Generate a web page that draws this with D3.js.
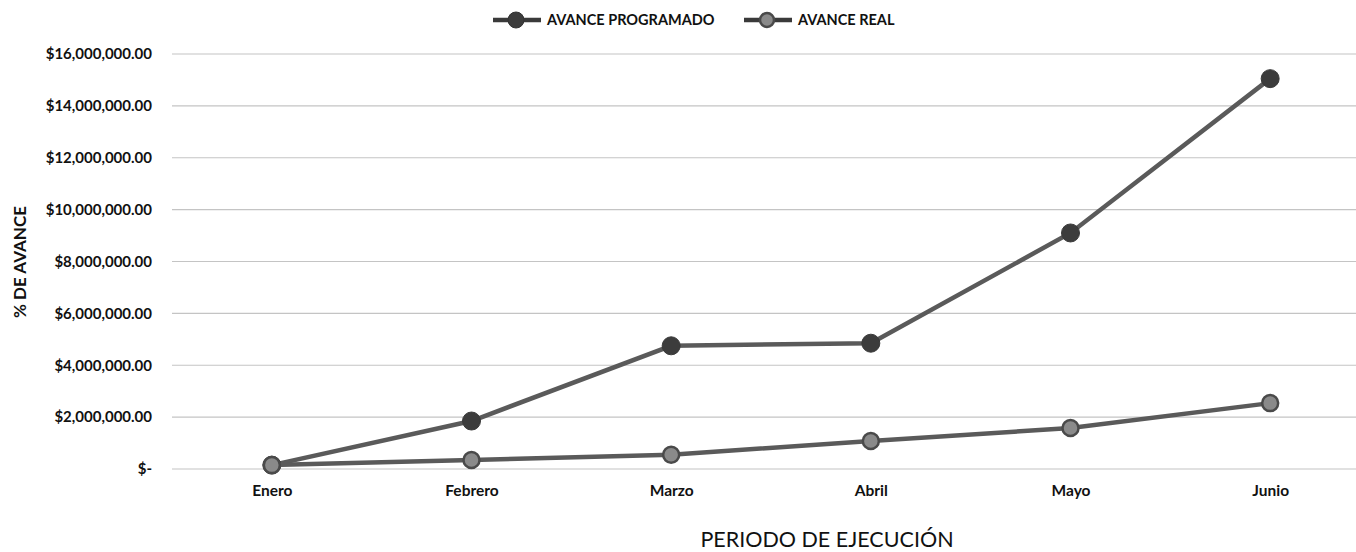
<!DOCTYPE html>
<html>
<head>
<meta charset="utf-8">
<script src="https://cdn.jsdelivr.net/npm/d3@7"></script>
<style>
  body { margin: 0; background: #fff; }
  text { font-family: Lato, "Open Sans", sans-serif; }
</style>
</head>
<body>
<svg id="chart" width="1356" height="552"></svg>
<script>
// data
var meses = ["Enero", "Febrero", "Marzo", "Abril", "Mayo", "Junio"];
var programado = [150000, 1850000, 4750000, 4850000, 9100000, 15050000];
var real = [150000, 350000, 550000, 1080000, 1580000, 2540000];
var yTicks = [0, 2000000, 4000000, 6000000, 8000000, 10000000, 12000000, 14000000, 16000000];

var svg = d3.select("#chart");
var plotLeft = 172, plotRight = 1370, plotTop = 54, plotBottom = 469;

var x = d3.scalePoint().domain(meses).range([plotLeft, plotRight]).padding(0.5);
var y = d3.scaleLinear().domain([0, 16000000]).range([plotBottom, plotTop]);

var fmt = function (v) {
  if (v === 0) return "$-";
  return "$" + d3.format(",.2f")(v);
};

// grid
svg.append("g").selectAll("line").data(yTicks).enter().append("line")
  .attr("x1", plotLeft).attr("x2", 1356)
  .attr("y1", function (d) { return y(d); })
  .attr("y2", function (d) { return y(d); })
  .attr("stroke", "#c4c4c4").attr("stroke-width", 1.2);

// y axis labels
var yAxis = d3.axisLeft(y).tickValues(yTicks).tickFormat(fmt).tickSize(0).tickPadding(20);
var gy = svg.append("g").attr("transform", "translate(" + plotLeft + ",0)").call(yAxis);
gy.select(".domain").remove();
gy.selectAll("text").attr("font-size", 15).attr("font-weight", "bold").attr("fill", "#111");

// x axis labels
var xAxis = d3.axisBottom(x).tickSize(0).tickPadding(16);
var gx = svg.append("g").attr("transform", "translate(0," + plotBottom + ")").call(xAxis);
gx.select(".domain").remove();
gx.selectAll("text").attr("font-size", 15.5).attr("font-weight", "bold").attr("fill", "#111");

// axis titles
svg.append("text").attr("x", 827).attr("y", 547).attr("text-anchor", "middle")
  .attr("font-size", 21.5).attr("fill", "#111").text("PERIODO DE EJECUCIÓN");
svg.append("text").attr("transform", "translate(26,262) rotate(-90)").attr("text-anchor", "middle")
  .attr("font-size", 17).attr("font-weight", "bold").attr("fill", "#111").text("% DE AVANCE");

var line = d3.line()
  .x(function (d, i) { return x(meses[i]); })
  .y(function (d) { return y(d); });

function drawSeries(data, fill, ring) {
  svg.append("path").datum(data).attr("d", line)
    .attr("fill", "none").attr("stroke", "#5a5a5a").attr("stroke-width", 4.5);
  svg.append("g").selectAll("circle").data(data).enter().append("circle")
    .attr("cx", function (d, i) { return x(meses[i]); })
    .attr("cy", function (d) { return y(d); })
    .attr("r", ring ? 8 : 9)
    .attr("fill", fill)
    .attr("stroke", ring ? "#4a4a4a" : "#3a3a3a")
    .attr("stroke-width", ring ? 2.5 : 1);
}
drawSeries(programado, "#3c3c3c", false);
drawSeries(real, "#8a8a8a", true);

// legend
function legendItem(x0, label, fill, ring) {
  svg.append("line").attr("x1", x0).attr("x2", x0 + 48).attr("y1", 20).attr("y2", 20)
    .attr("stroke", "#3a3a3a").attr("stroke-width", 4.5);
  svg.append("circle").attr("cx", x0 + 23).attr("cy", 20).attr("r", ring ? 7 : 8)
    .attr("fill", fill).attr("stroke", ring ? "#4a4a4a" : "#333").attr("stroke-width", ring ? 2.5 : 1);
  svg.append("text").attr("x", x0 + 54).attr("y", 25).attr("font-size", 14.5)
    .attr("font-weight", "bold").attr("fill", "#111").text(label);
}
legendItem(493, "AVANCE PROGRAMADO", "#3c3c3c", false);
legendItem(744, "AVANCE REAL", "#8a8a8a", true);
</script>
</body>
</html>
